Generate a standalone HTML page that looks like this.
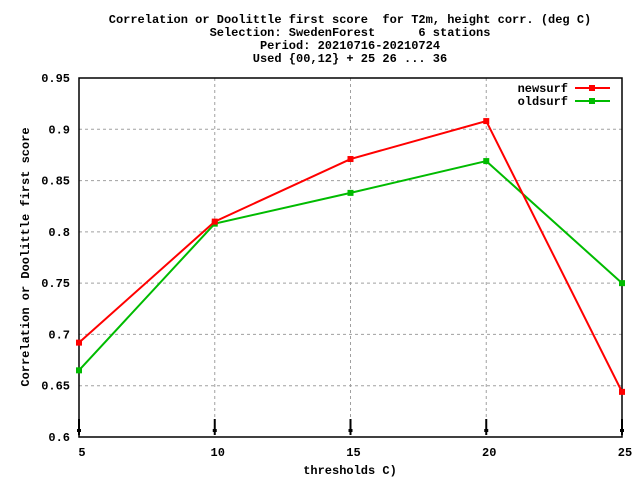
<!DOCTYPE html>
<html><head><meta charset="utf-8"><style>
body{margin:0;background:#fff;}
svg text{font-family:"Liberation Mono",monospace;font-weight:bold;font-size:12px;fill:#000;white-space:pre;}
</style></head><body>
<svg id="chart" width="640" height="480" viewBox="0 0 640 480" xmlns="http://www.w3.org/2000/svg" xml:space="preserve">
<g>
<text x="350" y="23" text-anchor="middle">Correlation or Doolittle first score  for T2m, height corr. (deg C)</text>
<text x="350" y="36" text-anchor="middle">Selection: SwedenForest      6 stations</text>
<text x="350" y="49" text-anchor="middle">Period: 20210716-20210724</text>
<text x="350" y="62" text-anchor="middle">Used {00,12} + 25 26 ... 36</text>
</g>
<g id="grid"></g>
<g id="axes"></g>
<text x="350" y="474" text-anchor="middle">thresholds C)</text>
<text transform="translate(29,257) rotate(-90)" text-anchor="middle">Correlation or Doolittle first score</text>
<g id="series"></g>
<g>
<g>
<text x="568" y="92" text-anchor="end">newsurf</text>
<line x1="575" y1="88" x2="610" y2="88" stroke="#f00" stroke-width="2"/>
<rect x="589" y="85" width="6" height="6" fill="#f00"/>
</g>
<g>
<text x="568" y="105" text-anchor="end">oldsurf</text>
<line x1="575" y1="101" x2="610" y2="101" stroke="#0b0" stroke-width="2"/>
<rect x="589" y="98" width="6" height="6" fill="#0b0"/>
</g>
</g>
</svg>
<script>
const categories=[5,10,15,20,25];
const newsurf=[0.692,0.810,0.871,0.908,0.644];
const oldsurf=[0.665,0.808,0.838,0.869,0.750];
const yTicks=[0.6,0.65,0.7,0.75,0.8,0.85,0.9,0.95];
const yTickLabels=["0.6","0.65","0.7","0.75","0.8","0.85","0.9","0.95"];
const NS="http://www.w3.org/2000/svg";
const L=79,R=622,T=78,B=437;
function xs(v){return L+(v-5)/(25-5)*(R-L);}
function ys(v){return B-(v-0.6)/(0.95-0.6)*(B-T);}
function mk(t,a,p){const e=document.createElementNS(NS,t);for(const k in a)e.setAttribute(k,a[k]);p.appendChild(e);return e;}
const grid=document.getElementById('grid'),axes=document.getElementById('axes'),ser=document.getElementById('series');
yTicks.forEach((v,i)=>{
  const y=ys(v);
  if(i>0&&i<yTicks.length-1){const g=mk('line',{x1:L,x2:R,y1:y,y2:y,stroke:'#a0a0a0','stroke-dasharray':'3,3'},grid);
  
  }
  const t=mk('text',{x:L-9,y:y+4,'text-anchor':'end'},axes);t.textContent=yTickLabels[i];
  
  
});
categories.forEach((c,i)=>{
  const x=xs(c);
  if(i>0&&i<categories.length-1){const g=mk('line',{x1:x,x2:x,y1:T,y2:B,stroke:'#a0a0a0','stroke-dasharray':'3,3'},grid);
  
  }
  const m=mk('line',{x1:x,x2:x,y1:419,y2:435,stroke:'#000','stroke-width':2},axes);
  
  
  mk('rect',{x:x-2,y:429,width:4,height:3,fill:'#000'},axes);
  const t=mk('text',{x:x+3,y:456,'text-anchor':'middle'},axes);t.textContent=String(c);
  
  
});
const fr=mk('rect',{x:L,y:T,width:R-L,height:B-T,fill:'none',stroke:'#000','stroke-width':1.5},axes);


function draw(vals,col,name){
  const pts=vals.map((v,i)=>xs(categories[i])+','+ys(v)).join(' ');
  const pl=mk('polyline',{points:pts,fill:'none',stroke:col,'stroke-width':2},ser);
  
  
  vals.forEach((v,i)=>{const r=mk('rect',{x:xs(categories[i])-3,y:ys(v)-3,width:6,height:6,fill:col},ser);
  
  });
}
draw(oldsurf,'#0b0','oldsurf');
draw(newsurf,'#f00','newsurf');
</script>
</body></html>
